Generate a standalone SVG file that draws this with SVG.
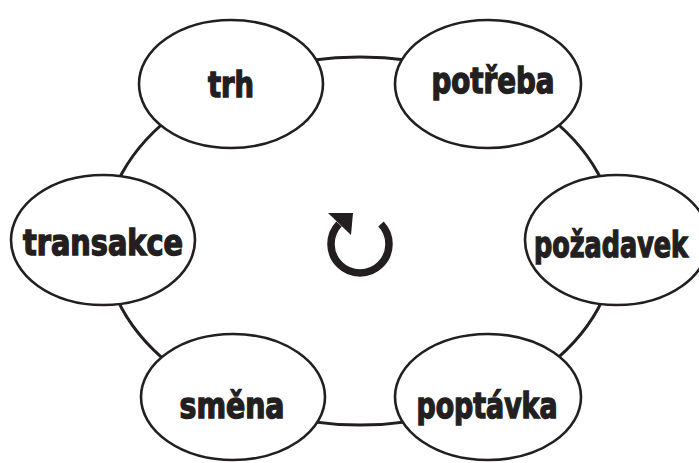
<svg xmlns="http://www.w3.org/2000/svg" width="699" height="463" viewBox="0 0 699 463">
<style>
.node{fill:#fff;stroke:#231f20;stroke-width:2.6}
.lbl{font-family:"DejaVu Sans Condensed","DejaVu Sans",sans-serif;font-stretch:condensed;font-weight:bold;font-size:36px;fill:#231f20;stroke:#231f20;stroke-width:1.4;text-anchor:middle}
.ring{fill:none;stroke:#231f20;stroke-width:3}
</style>
<rect width="699" height="463" fill="#fff"/>
<g id="connectors">
<ellipse class="ring" cx="360" cy="241" rx="256" ry="184"/>
</g>
<g id="trh"><ellipse class="node" cx="231" cy="84" rx="92" ry="64"/><text class="lbl" x="231" y="97" textLength="46" lengthAdjust="spacingAndGlyphs">trh</text></g>
<g id="potreba"><ellipse class="node" cx="488" cy="84" rx="93" ry="64"/><text class="lbl" x="493" y="93" textLength="123" lengthAdjust="spacingAndGlyphs">potřeba</text></g>
<g id="transakce"><ellipse class="node" cx="103" cy="240" rx="92" ry="65"/><text class="lbl" x="103" y="255" textLength="160" lengthAdjust="spacingAndGlyphs">transakce</text></g>
<g id="pozadavek"><ellipse class="node" cx="617" cy="240" rx="92" ry="65"/><text class="lbl" x="611" y="257" textLength="154" lengthAdjust="spacingAndGlyphs">požadavek</text></g>
<g id="smena"><ellipse class="node" cx="233" cy="397" rx="92" ry="63"/><text class="lbl" x="232" y="418" textLength="105" lengthAdjust="spacingAndGlyphs">směna</text></g>
<g id="poptavka"><ellipse class="node" cx="488" cy="397" rx="93" ry="63"/><text class="lbl" x="487" y="418" textLength="141" lengthAdjust="spacingAndGlyphs">poptávka</text></g>
<g id="cycle">
<path d="M381,224 A29,29 0 1 1 339,224" fill="none" stroke="#231f20" stroke-width="7.5"/>
<polygon points="328,213 353,213 351,235" fill="#231f20"/>
</g>
</svg>
